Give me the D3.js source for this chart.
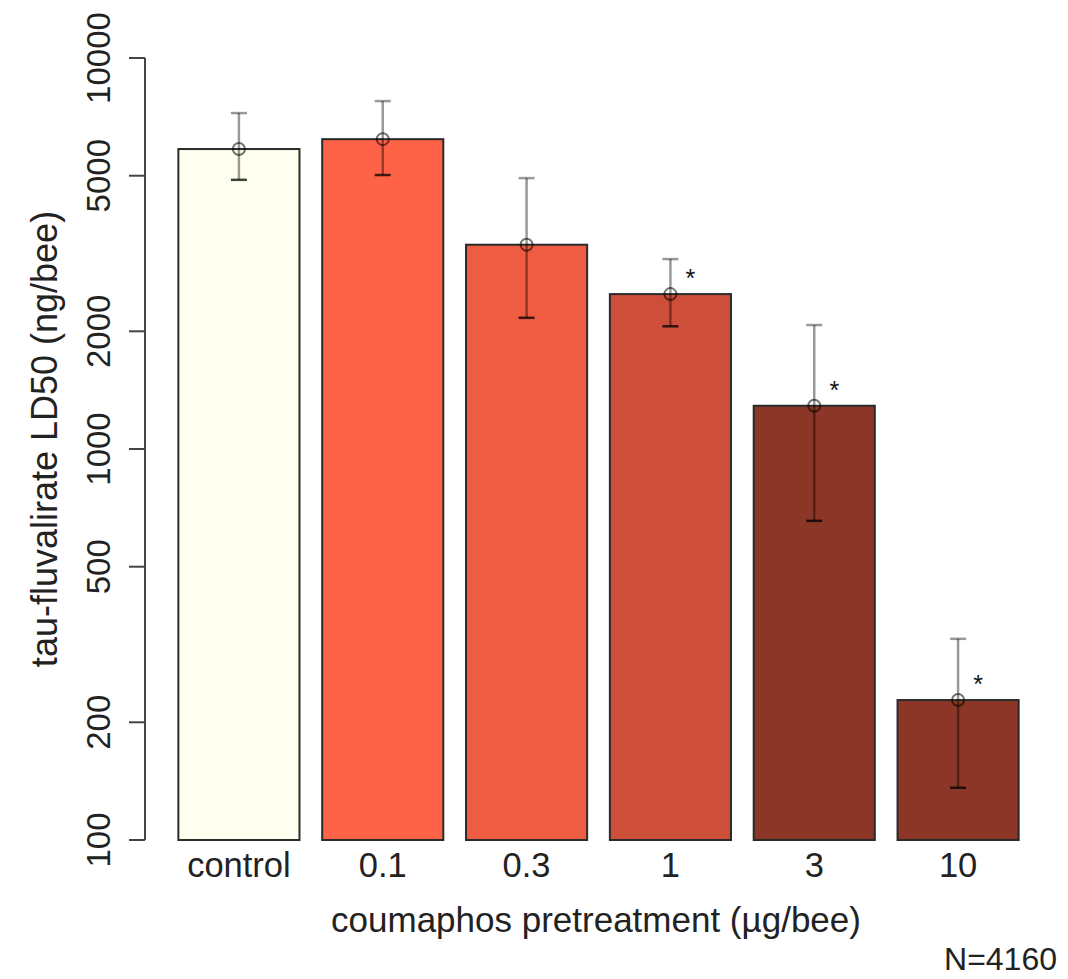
<!DOCTYPE html>
<html>
<head>
<meta charset="utf-8">
<script src="https://cdn.jsdelivr.net/npm/d3@7"></script>
<style>
  html, body { margin: 0; padding: 0; background: #fff; }
  svg { display: block; font-family: "Liberation Sans", Arial, Helvetica, sans-serif; }
</style>
</head>
<body>
<svg id="chart" width="1068" height="979"></svg>
<script>
// ---- data ----
const categories = ["control", "0.1", "0.3", "1", "3", "10"];
const ld50 = [5850, 6200, 3330, 2490, 1290, 228];
const ciLow = [4880, 5020, 2165, 2060, 655, 136];
const ciHigh = [7230, 7760, 4930, 3060, 2075, 327];
const significant = [false, false, false, true, true, true];
const barColors = ["#FFFFF0", "#FF6347", "#EE5C42", "#CD4F39", "#8B3626", "#8B3626"];
const yTicks = [100, 200, 500, 1000, 2000, 5000, 10000];
const yTitle = "tau-fluvalirate LD50 (ng/bee)";
const xTitle = "coumaphos pretreatment (µg/bee)";
const note = "N=4160";

// ---- layout ----
const svg = d3.select("#chart");
const yBottom = 840, yTop = 58, axisX = 145;

const x = d3.scaleBand()
  .domain(categories)
  .range([167, 1030])
  .paddingInner(0.158)
  .paddingOuter(0.079);

const y = d3.scaleLog()
  .domain([100, 10000])
  .range([yBottom, yTop]);

const rows = categories.map((c, i) => ({
  cat: c, v: ld50[i], lo: ciLow[i], hi: ciHigh[i], sig: significant[i], col: barColors[i]
}));

// bars
svg.append("g").selectAll("rect").data(rows).join("rect")
  .attr("x", d => x(d.cat))
  .attr("y", d => y(d.v))
  .attr("width", x.bandwidth())
  .attr("height", d => y(100) - y(d.v))
  .attr("fill", d => d.col)
  .attr("stroke", "#2a2a2a")
  .attr("stroke-width", 2);

// error bars
const eb = svg.append("g").attr("stroke", "rgba(0,0,0,0.4)").attr("stroke-width", 2.5).attr("fill", "none");
rows.forEach(d => {
  const cx = x(d.cat) + x.bandwidth() / 2;
  eb.append("line").attr("x1", cx).attr("x2", cx).attr("y1", y(d.hi)).attr("y2", y(d.lo));
  eb.append("line").attr("x1", cx - 8).attr("x2", cx + 8).attr("y1", y(d.hi)).attr("y2", y(d.hi));
  eb.append("line").attr("x1", cx - 8).attr("x2", cx + 8).attr("y1", y(d.lo)).attr("y2", y(d.lo))
    .attr("stroke", "rgba(0,0,0,0.75)");
  eb.append("circle").attr("cx", cx).attr("cy", y(d.v)).attr("r", 6)
    .attr("stroke", "rgba(0,0,0,0.55)").attr("stroke-width", 2);
  if (d.sig) {
    svg.append("text").attr("x", cx + 20).attr("y", y(d.v) - 7)
      .attr("text-anchor", "middle").attr("font-size", 25).attr("fill", "#111").text("*");
  }
});

// y axis
const ya = svg.append("g").attr("stroke", "#444").attr("stroke-width", 2);
ya.append("line").attr("x1", axisX).attr("x2", axisX).attr("y1", y(10000)).attr("y2", y(100));
yTicks.forEach(t => {
  ya.append("line").attr("x1", axisX - 16).attr("x2", axisX).attr("y1", y(t)).attr("y2", y(t));
  svg.append("text")
    .attr("transform", `translate(110,${y(t)}) rotate(-90)`)
    .attr("text-anchor", "middle")
    .attr("font-size", 33).attr("fill", "#222")
    .text(t);
});

// x labels
categories.forEach(c => {
  svg.append("text")
    .attr("x", x(c) + x.bandwidth() / 2).attr("y", 877)
    .attr("text-anchor", "middle").attr("font-size", 34.5).attr("fill", "#222")
    .text(c);
});

// titles
svg.append("text").attr("x", 596).attr("y", 932)
  .attr("text-anchor", "middle").attr("font-size", 35).attr("fill", "#222").text(xTitle);
svg.append("text")
  .attr("transform", `translate(57,439) rotate(-90)`)
  .attr("text-anchor", "middle").attr("font-size", 36).attr("fill", "#222").text(yTitle);
svg.append("text").attr("x", 1057).attr("y", 970)
  .attr("text-anchor", "end").attr("font-size", 32).attr("fill", "#222").text(note);
</script>
</body>
</html>
